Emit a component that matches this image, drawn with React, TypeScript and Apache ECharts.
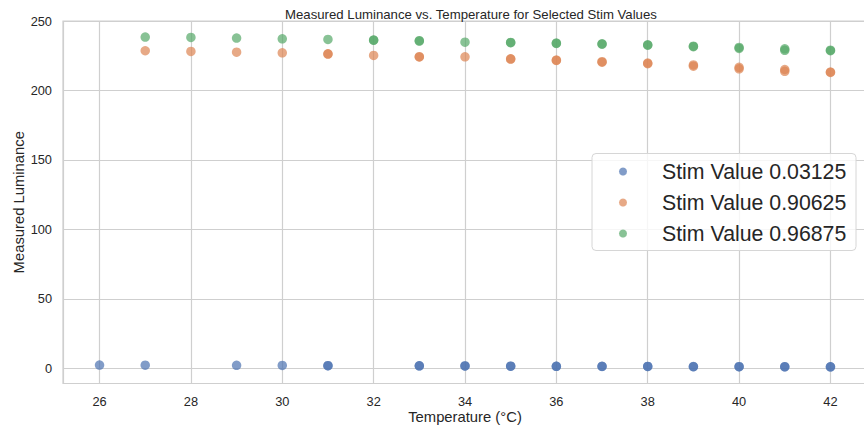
import React, { useEffect, useRef } from "react";
import * as echarts from "echarts";

const TITLE = "Measured Luminance vs. Temperature for Selected Stim Values";
const X_NAME = "Temperature (°C)";
const Y_NAME = "Measured Luminance";

const seriesNames = ["Stim Value 0.03125", "Stim Value 0.90625", "Stim Value 0.96875"];
const seriesColors = ["#4C72B0", "#DD8452", "#55A868"];

// Stim 0.03125
const blueTemps = [26, 27, 29, 30, 31, 31, 33, 33, 34, 34, 35, 35, 36, 36, 37, 37, 38, 38, 39, 39, 40, 40, 41, 41, 42, 42];
const blueValues = [2.5, 2.4, 2.3, 2.2, 2.0, 2.0, 1.9, 1.9, 1.8, 1.8, 1.7, 1.7, 1.6, 1.6, 1.6, 1.5, 1.5, 1.5, 1.4, 1.3, 1.3, 1.3, 1.3, 1.2, 1.2, 1.2];

// Stim 0.90625
const orangeTemps = [27, 28, 29, 30, 31, 31, 32, 33, 33, 34, 35, 35, 36, 36, 37, 37, 38, 38, 39, 39, 40, 40, 41, 41, 42, 42];
const orangeValues = [228.6, 228.1, 227.6, 227.1, 226.4, 226.2, 225.2, 224.3, 224.1, 224.2, 222.8, 222.6, 221.9, 221.6, 220.7, 220.4, 219.7, 219.3, 218.4, 217.5, 216.7, 215.6, 215.1, 213.8, 213.3, 213.0];

// Stim 0.96875
const greenTemps = [27, 28, 29, 30, 31, 32, 32, 33, 33, 34, 35, 35, 36, 36, 37, 37, 38, 38, 39, 39, 40, 40, 41, 41, 42, 42];
const greenValues = [238.4, 238.2, 237.7, 237.2, 236.7, 236.3, 236.2, 235.8, 235.6, 234.8, 234.6, 234.4, 234.1, 233.9, 233.6, 233.3, 232.9, 232.6, 231.9, 231.5, 231.0, 230.3, 230.0, 228.9, 229.0, 228.6];

const xTicks = [26, 28, 30, 32, 34, 36, 38, 40, 42];
const yTicks = [0, 50, 100, 150, 200, 250];

const FONT = "'Liberation Sans', Arial, Helvetica, sans-serif";
const TEXT = "#262626";
const GRIDC = "#cfcfcf";

function pairs(t: number[], v: number[]) {
  return t.map((x, i) => [x, v[i]]);
}

export default function App() {
  const ref = useRef<HTMLDivElement>(null);
  useEffect(() => {
    if (!ref.current) return;
    const chart = echarts.init(ref.current, undefined, { renderer: "svg" });
    const datasets = [pairs(blueTemps, blueValues), pairs(orangeTemps, orangeValues), pairs(greenTemps, greenValues)];
    const isTick = (arr: number[], v: number) => arr.some((t) => Math.abs(t - v) < 1e-6);
    chart.setOption({
      animation: false,
      backgroundColor: "#ffffff",
      title: {
        text: TITLE,
        left: 280,
        top: 3,
        textStyle: { fontFamily: FONT, fontSize: 13.2, fontWeight: "normal", color: TEXT },
      },
      grid: {
        left: 63,
        width: 804,
        top: 21,
        bottom: 45.5,
        containLabel: false,
        outerBoundsMode: "none",
        show: true,
        borderColor: GRIDC,
        borderWidth: 1.2,
        backgroundColor: "transparent",
      },
      xAxis: {
        type: "value",
        min: 25.2,
        max: 42.8,
        splitNumber: 9,
        name: X_NAME,
        nameLocation: "middle",
        nameGap: 26,
        nameMoveOverlap: false,
        nameTextStyle: { fontFamily: FONT, fontSize: 14.8, color: TEXT },
        axisLine: { show: false },
        axisTick: { show: false },
        axisLabel: {
          fontFamily: FONT,
          fontSize: 12.8,
          color: TEXT,
          margin: 11,
          showMinLabel: true,
          showMaxLabel: true,
          formatter: (v: number) => (isTick(xTicks, v) ? String(Math.round(v)) : ""),
        },
        splitLine: { show: true, lineStyle: { color: GRIDC, width: 1.2 } },
      },
      yAxis: {
        type: "value",
        min: -10.8,
        max: 250,
        splitNumber: 5,
        name: Y_NAME,
        nameLocation: "middle",
        nameGap: 37,
        nameMoveOverlap: false,
        nameRotate: 90,
        nameTextStyle: { fontFamily: FONT, fontSize: 14.8, color: TEXT },
        axisLine: { show: false },
        axisTick: { show: false },
        axisLabel: {
          fontFamily: FONT,
          fontSize: 12.8,
          color: TEXT,
          margin: 11,
          showMinLabel: true,
          showMaxLabel: true,
          formatter: (v: number) => (isTick(yTicks, v) ? String(Math.round(v)) : ""),
        },
        splitLine: { show: true, lineStyle: { color: GRIDC, width: 1.2 } },
      },
      legend: {
        orient: "vertical",
        left: 619,
        top: 161,
        padding: 0,
        itemWidth: 8,
        itemHeight: 8,
        itemGap: 10,
        icon: "circle",
        textStyle: { fontFamily: FONT, fontSize: 21.3, color: TEXT, lineHeight: 20, padding: [0, 0, 0, 30] },
        data: seriesNames,
      },
      graphic: [
        {
          type: "rect",
          shape: { x: 592, y: 153.5, width: 264, height: 97, r: 4 },
          style: { fill: "rgba(255,255,255,0.8)", stroke: "#d6d6d6", lineWidth: 1 },
          z: 3,
          silent: true,
        },
      ],
      series: datasets.map((d, i) => ({
        type: "scatter",
        name: seriesNames[i],
        data: d,
        symbol: "circle",
        symbolSize: 9.5,
        itemStyle: { color: seriesColors[i], opacity: 0.7 },
        z: 2,
      })),
    });
    return () => chart.dispose();
  }, []);
  return <div ref={ref} style={{ width: 864, height: 429, position: "absolute", left: 0, top: 0 }} />;
}
